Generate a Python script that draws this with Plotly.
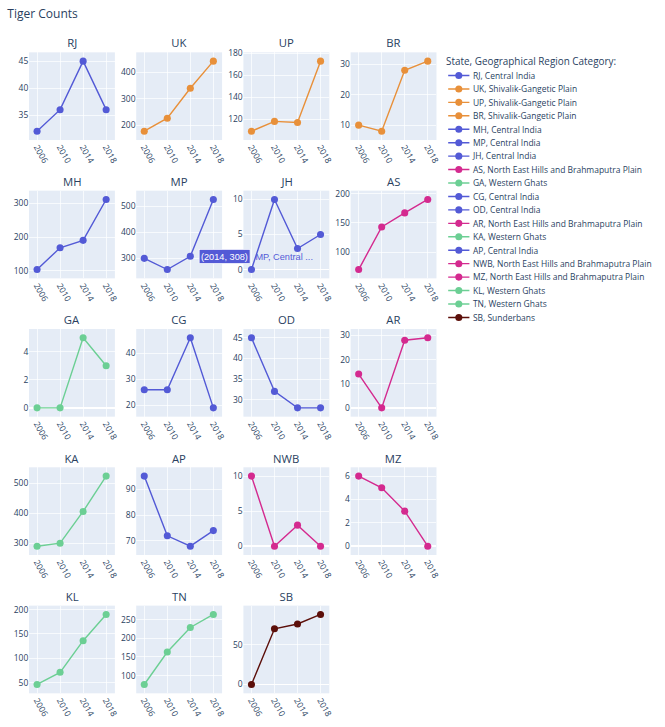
import plotly.graph_objects as go
from plotly.subplots import make_subplots

# Survey years (categorical x axis)
years = ["2006", "2010", "2014", "2018"]

# States in display order, with their geographical region
states = ["RJ", "UK", "UP", "BR", "MH", "MP", "JH", "AS", "GA", "CG",
          "OD", "AR", "KA", "AP", "NWB", "MZ", "KL", "TN", "SB"]
regions = ["Central India", "Shivalik-Gangetic Plain", "Shivalik-Gangetic Plain",
           "Shivalik-Gangetic Plain", "Central India", "Central India", "Central India",
           "North East Hills and Brahmaputra Plain", "Western Ghats", "Central India",
           "Central India", "North East Hills and Brahmaputra Plain", "Western Ghats",
           "Central India", "North East Hills and Brahmaputra Plain",
           "North East Hills and Brahmaputra Plain", "Western Ghats", "Western Ghats",
           "Sunderbans"]

# Tiger counts per state for 2006, 2010, 2014, 2018
rj = [32, 36, 45, 36]
uk = [178, 227, 340, 442]
up = [109, 118, 117, 173]
br = [10, 8, 28, 31]
mh = [103, 168, 190, 312]
mp = [300, 257, 308, 526]
jh = [0, 10, 3, 5]
as_ = [70, 143, 167, 190]
ga = [0, 0, 5, 3]
cg = [26, 26, 46, 19]
od = [45, 32, 28, 28]
ar = [14, 0, 28, 29]
ka = [290, 300, 406, 524]
ap = [95, 72, 68, 74]
nwb = [10, 0, 3, 0]
mz = [6, 5, 3, 0]
kl = [46, 71, 136, 190]
tn = [76, 163, 229, 264]
sb = [0, 70, 76, 88]

counts = [rj, uk, up, br, mh, mp, jh, as_, ga, cg, od, ar, ka, ap, nwb, mz, kl, tn, sb]

region_colors = {
    "Central India": "#535ad6",
    "Shivalik-Gangetic Plain": "#e8903a",
    "North East Hills and Brahmaputra Plain": "#d42a8f",
    "Western Ghats": "#6ccf94",
    "Sunderbans": "#5c0f0a",
}

W, H = 940, 1028
ZOOM = 665 / W

fig = make_subplots(rows=5, cols=4, subplot_titles=states,
                    horizontal_spacing=0.0523, vertical_spacing=0.079)

for i, (st, reg, vals) in enumerate(zip(states, regions, counts)):
    r, c = i // 4 + 1, i % 4 + 1
    color = region_colors[reg]
    fig.add_trace(
        go.Scatter(x=years, y=vals, mode="lines+markers",
                   name=f"{st}, {reg}",
                   line=dict(color=color, width=2),
                   marker=dict(color=color, size=10)),
        row=r, col=c)

# Same padded category range on every panel
fig.update_xaxes(type="category", tickangle=60, range=[-0.35, 3.38])

# Hover-style callout on the MP 2014 point
mp_idx = states.index("MP")
hover_year = "2014"
hover_pos = years.index(hover_year)
hover_val = counts[mp_idx][hover_pos]
mp_color = region_colors[regions[mp_idx]]
fig.add_annotation(x=hover_pos, y=hover_val, xref="x6", yref="y6",
                   text=f"({hover_year}, {hover_val})", showarrow=False,
                   xanchor="left", yanchor="middle", xshift=12,
                   bgcolor=mp_color, bordercolor="white", borderwidth=1, borderpad=2,
                   font=dict(family="Arial", size=13, color="white"))
fig.add_annotation(x=hover_pos, y=hover_val, xref="x6", yref="y6",
                   text=f"{states[mp_idx]}, Central ...", showarrow=False,
                   xanchor="left", yanchor="middle", xshift=90,
                   font=dict(family="Arial", size=13, color=mp_color))

fig.update_layout(
    width=W, height=H,
    template="plotly",
    margin=dict(l=41, r=304, t=73.5, b=35.7),
    title=dict(text="Tiger Counts", x=0.011, xanchor="left",
               y=1 - 20 / H, yanchor="middle"),
    legend=dict(title=dict(text="State, Geographical Region Category:")),
)

fig.write_html(
    "out.html",
    post_script=("document.body.style.margin='0';"
                 "document.body.style.overflow='hidden';"
                 f"document.body.style.zoom='{ZOOM:.5f}';"),
)
